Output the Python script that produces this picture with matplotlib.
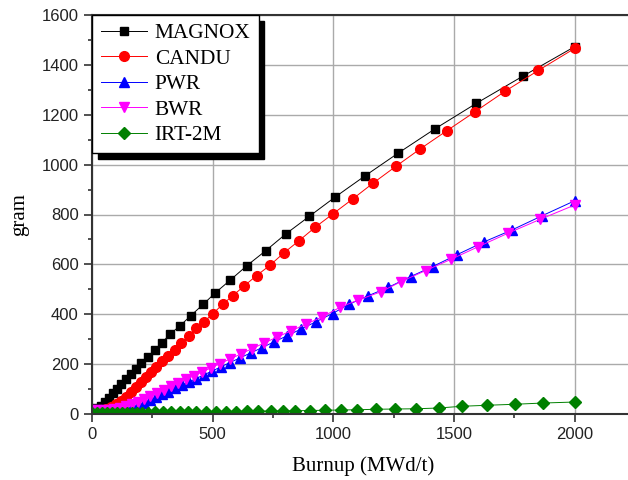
import matplotlib
matplotlib.use('Agg')
import matplotlib.pyplot as plt
from matplotlib.ticker import MultipleLocator

# burnup (MWd/t) and mass (gram)
magnox_x = [0, 18, 36, 53, 70, 88, 105, 121, 140, 160, 182, 204, 232, 260, 290, 323, 364, 409, 461, 511,
            573, 642, 720, 803, 901, 1009, 1130, 1267, 1422, 1593, 1784, 2000]
magnox_y = [14, 23, 32, 48, 64, 83, 102, 119, 139, 160, 179, 203, 230, 257, 286, 320, 353, 394, 440, 486,
            537, 595, 655, 722, 793, 871, 954, 1045, 1144, 1246, 1354, 1473]

candu_x = [0, 18, 39, 59, 80, 101, 121, 142, 163, 183, 204, 225, 246, 266, 290, 315, 343, 370, 400, 432,
           464, 500, 541, 583, 631, 682, 737, 795, 858, 925, 999, 1080, 1165, 1259, 1360, 1469, 1587, 1713, 1850, 2000]
candu_y = [8, 12, 16, 21, 29, 40, 53, 69, 89, 109, 130, 150, 170, 190, 213, 234, 257, 284, 313, 344,
           370, 401, 440, 474, 514, 555, 596, 646, 695, 749, 803, 862, 926, 993, 1063, 1135, 1212, 1295, 1378, 1466]

pwr_x = [0, 25, 46, 66, 91, 116, 141, 166, 190, 215, 240, 265, 290, 315, 344, 373, 402, 431, 464, 497,
         534, 571, 613, 658, 704, 754, 807, 865, 928, 997, 1065, 1144, 1228, 1320, 1411, 1513, 1624, 1740, 1863, 2000]
pwr_y = [15, 15, 15, 15, 16, 18, 22, 28, 35, 45, 56, 67, 79, 90, 103, 116, 129, 142, 157, 172,
         189, 206, 225, 245, 266, 289, 313, 340, 370, 403, 440, 474, 508, 551, 591, 639, 690, 738, 794, 855]

bwr_x = [0, 21, 46, 66, 91, 116, 141, 166, 190, 215, 240, 269, 298, 327, 356, 389, 422, 455, 493, 530,
         571, 617, 663, 712, 766, 824, 886, 955, 1028, 1103, 1197, 1281, 1382, 1487, 1601, 1724, 1858, 2000]
bwr_y = [15, 15, 15, 17, 20, 25, 32, 41, 50, 61, 72, 85, 98, 111, 124, 139, 153, 168, 185, 202,
         220, 241, 262, 284, 308, 333, 360, 390, 428, 457, 490, 531, 575, 620, 671, 725, 781, 838]

irt_x = [0, 21, 41, 62, 83, 104, 124, 145, 166, 186, 207, 232, 261, 294, 327, 364, 398, 431, 472, 514,
         555, 596, 642, 687, 741, 792, 843, 902, 965, 1031, 1100, 1176, 1257, 1344, 1436, 1533, 1637, 1751, 1869, 2000]
irt_y = [3, 3, 4, 4, 4, 5, 5, 5, 5, 6, 6, 6, 7, 7, 7, 8, 8, 9, 9, 9,
         10, 10, 11, 11, 12, 12, 13, 14, 15, 16, 17, 19, 20, 21, 24, 31, 35, 39, 44, 48]

labels = ['MAGNOX', 'CANDU', 'PWR', 'BWR', 'IRT-2M']

fig = plt.figure(figsize=(6.28, 4.8), dpi=100)
ax = fig.add_axes([0.1465, 0.1375, 0.8646, 0.83125])

ax.plot(magnox_x, magnox_y, '-s', color='k', lw=0.7, ms=6, label=labels[0])
ax.plot(candu_x, candu_y, '-o', color='#ff0000', mec='#ff0000', lw=0.7, ms=7, label=labels[1])
ax.plot(pwr_x, pwr_y, '-^', color='#0000ff', lw=0.7, ms=7, label=labels[2])
ax.plot(bwr_x, bwr_y, '-v', color='#ff00ff', lw=0.7, ms=7, label=labels[3])
ax.plot(irt_x, irt_y, '-D', color='#008000', lw=0.7, ms=6, label=labels[4])

ax.set_xlim(0, 2250)
ax.set_ylim(0, 1600)
ax.xaxis.set_major_locator(MultipleLocator(500))
ax.xaxis.set_minor_locator(MultipleLocator(250))
ax.yaxis.set_major_locator(MultipleLocator(200))
ax.yaxis.set_minor_locator(MultipleLocator(100))
ax.grid(True, which='major', color='#aaaaaa', lw=1)
ax.set_axisbelow(True)

for s in ['left', 'bottom', 'top']:
    ax.spines[s].set_color('#333333')
    ax.spines[s].set_linewidth(1.5)
ax.spines['right'].set_visible(False)

ax.tick_params(which='major', direction='out', length=6, width=1.2, color='#333333',
               labelsize=12, labelcolor='#222222')
ax.tick_params(which='minor', direction='out', length=3, width=1.2, color='#333333')
for t in ax.get_xticklabels() + ax.get_yticklabels():
    t.set_family('Liberation Sans')

ax.set_xlabel('Burnup (MWd/t)', family='Liberation Serif', fontsize=15, labelpad=10)
ax.set_ylabel('gram', family='Liberation Serif', fontsize=15, labelpad=9)

leg = ax.legend(loc='upper left', borderaxespad=0, fancybox=False, edgecolor='k',
                framealpha=1, prop={'family': 'Liberation Serif', 'size': 15.3},
                handlelength=2.2, handletextpad=0.35, labelspacing=0.26, borderpad=0.4,
                shadow={'ox': 4, 'oy': -4, 'color': 'k', 'alpha': 1})
leg.get_frame().set_linewidth(1)

fig.savefig('out.png', dpi=100)
